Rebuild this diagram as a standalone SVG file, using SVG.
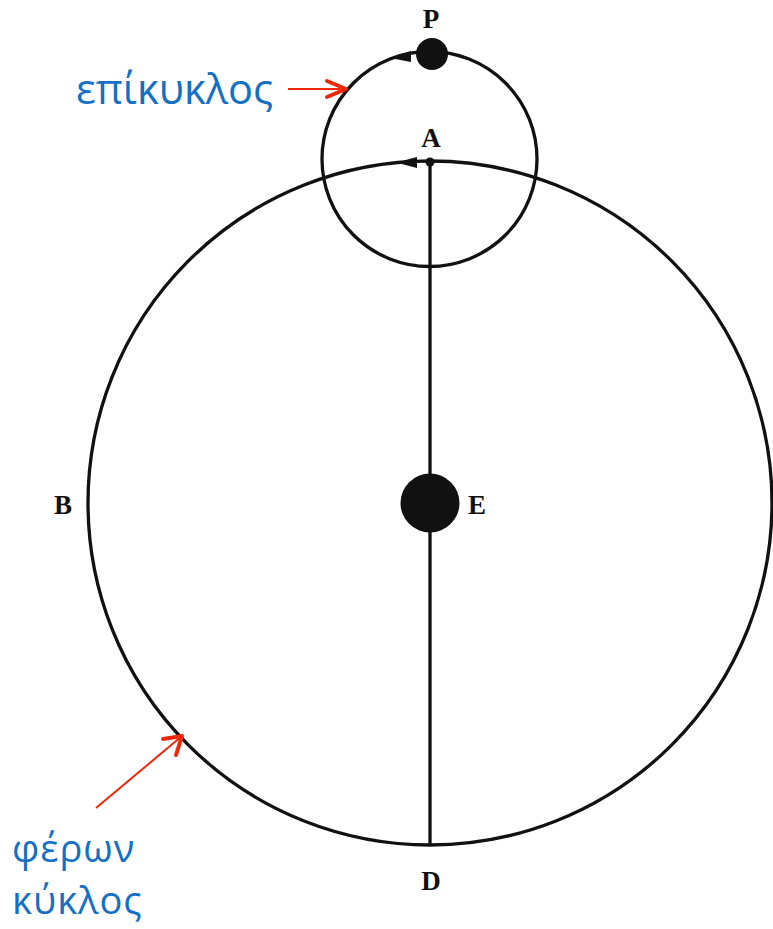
<svg xmlns="http://www.w3.org/2000/svg" width="773" height="929" viewBox="0 0 773 929">
<style>
.ln{fill:none;stroke:#111;stroke-width:3.3}
.lbl{font-family:"Liberation Serif",serif;font-weight:bold;font-size:27px;fill:#111;text-anchor:middle}
.gr{font-family:"Open Sans","Noto Sans",sans-serif;font-size:41.5px;fill:#1470c4}
.gr2{font-family:"Open Sans","Noto Sans",sans-serif;font-size:38px;letter-spacing:1px;fill:#1470c4}
.red{fill:none;stroke:#f0280a;stroke-width:2}
.redh{fill:none;stroke:#f0280a;stroke-width:4;stroke-linecap:round;stroke-linejoin:round}
</style>
<rect width="773" height="929" fill="#fff"/>
<g id="deferent">
<circle class="ln" cx="430" cy="503" r="342"/>
</g>
<g id="epicycle">
<circle class="ln" cx="429.5" cy="159" r="107.5"/>
</g>
<g id="connectors">
<line class="ln" x1="430" y1="162" x2="430" y2="845"/>
<path d="M396,162.5 L417,157 L417,168 Z" fill="#111"/>
<path d="M390,58 L411,51 L411,62 Z" fill="#111"/>
<line class="red" x1="288" y1="89" x2="346" y2="89"/>
<path class="redh" d="M327,81 L346,89 L327,97"/>
<line class="red" x1="96" y1="808" x2="182" y2="736"/>
<path class="redh" d="M163,739 L182,736 L176,755"/>
</g>
<g id="P"><circle cx="432" cy="54" r="16" fill="#111"/><text class="lbl" x="431" y="28">P</text></g>
<g id="A"><circle cx="430" cy="162" r="4.5" fill="#111"/><text class="lbl" x="431" y="147">A</text></g>
<g id="E"><circle cx="430" cy="503" r="29.5" fill="#111"/><text class="lbl" x="477" y="514">E</text></g>
<g id="B"><text class="lbl" x="63" y="514">B</text></g>
<g id="D"><text class="lbl" x="431" y="890">D</text></g>
<g id="labels">
<text class="gr" x="76" y="104">επίκυκλος</text>
<text class="gr2" x="12" y="862">φέρων</text>
<text class="gr2" x="12" y="914">κύκλος</text>
</g>
</svg>
